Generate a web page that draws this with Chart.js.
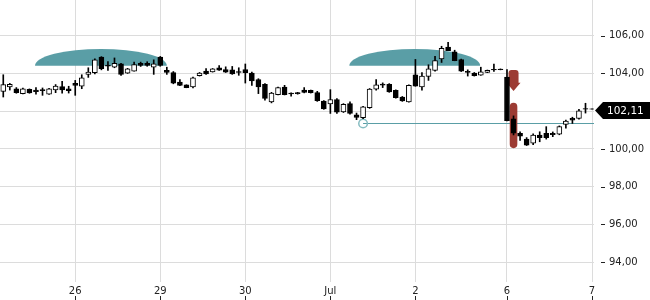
<!DOCTYPE html>
<html>
<head>
<meta charset="utf-8">
<script src="https://cdn.jsdelivr.net/npm/chart.js@4/dist/chart.umd.min.js"></script>
<style>
  html, body { margin: 0; padding: 0; background: #fff; }
  #wrap { width: 650px; height: 300px; }
</style>
</head>
<body>
<div id="wrap"><canvas id="chart" width="650" height="300"></canvas></div>
<script>
// Hourly candles, 25 Jun - 7 Jul (index = candle number)
const opens = [103.05,103.28,103.19,102.93,103.16,103.12,103.15,102.90,103.12,103.30,103.19,
  103.47,103.32,103.95,104.04,104.86,104.44,104.33,104.51,104.02,104.12,104.53,104.53,104.33,
  104.86,104.16,104.04,103.54,103.39,103.28,103.88,104.13,104.08,104.30,104.21,104.19,104.10,
  104.21,104.02,103.68,103.42,102.49,102.88,103.28,102.96,102.98,103.12,103.10,102.98,102.54,
  102.38,102.61,101.96,102.40,101.80,101.65,102.18,103.16,103.43,103.42,103.11,102.75,102.49,
  103.93,103.28,103.84,104.16,104.77,105.39,105.14,104.74,104.11,104.02,103.91,104.05,104.22,104.23,
  103.80,101.60,100.82,100.52,100.30,100.73,100.83,100.82,100.78,101.30,101.62,101.61,102.14,
  102.12];
const highs = [103.93,103.47,103.25,103.22,103.18,103.25,103.23,103.21,103.41,103.58,103.32,
  103.63,103.93,104.30,104.77,104.89,104.63,104.82,104.54,104.27,104.60,104.60,104.62,104.72,
  104.90,104.33,104.10,103.67,103.40,103.81,104.05,104.26,104.26,104.42,104.35,104.37,104.30,
  104.50,104.07,103.72,103.46,103.00,103.28,103.37,102.97,103.00,103.25,103.12,103.05,102.56,
  103.14,102.67,102.40,102.49,101.90,102.26,103.20,103.68,103.50,103.46,103.13,102.78,103.40,
  104.74,104.04,104.46,104.91,105.44,105.65,105.23,104.76,104.19,104.05,104.33,104.18,104.50,104.24,
  104.20,101.75,100.91,100.60,100.80,100.91,101.18,100.90,101.22,101.53,101.68,102.10,102.42,
  102.13];
const lows = [102.75,103.12,102.95,102.92,102.95,102.90,102.84,102.89,102.98,102.96,102.96,
  102.84,103.19,103.79,103.98,104.19,104.16,104.30,103.90,104.00,104.12,104.37,104.38,103.95,
  104.38,103.95,103.45,103.35,103.24,103.23,103.86,103.95,104.07,104.16,104.05,103.95,103.90,
  103.49,103.37,102.93,102.58,102.44,102.86,102.86,102.80,102.90,102.97,102.96,102.52,102.10,
  101.88,101.88,101.93,101.84,101.55,101.60,102.15,103.11,103.25,103.00,102.69,102.52,102.48,
  103.32,103.11,103.63,104.12,104.58,105.20,104.67,104.10,103.86,103.86,103.90,104.04,104.10,104.19,
  101.48,100.74,100.45,100.18,100.22,100.38,100.52,100.65,100.75,101.10,101.35,101.58,101.90,
  102.10];
const closes = [103.41,103.42,102.98,103.19,102.97,103.03,103.09,103.19,103.33,103.12,103.09,
  103.37,103.77,104.07,104.72,104.25,104.39,104.54,103.95,104.25,104.47,104.43,104.42,104.51,
  104.42,104.05,103.49,103.37,103.25,103.77,104.02,103.98,104.24,104.17,104.07,103.98,104.05,
  104.04,103.60,103.28,102.67,102.96,103.25,102.88,102.92,102.93,103.00,102.98,102.56,102.12,
  102.62,101.95,102.36,101.88,101.67,102.23,103.17,103.40,103.38,103.02,102.71,102.54,103.37,
  103.33,103.86,104.25,104.68,105.33,105.21,104.68,104.12,104.05,103.88,104.09,104.17,104.18,104.20,
  101.50,100.84,100.68,100.20,100.74,100.60,100.60,100.75,101.18,101.47,101.53,102.02,102.10,
  102.11];

// Axis ticks
const xTickPos = [11, 24, 37, 50, 63, 77, 90];
const xTickLabels = ['26', '29', '30', 'Jul', '2', '6', '7'];
const yTicks = [94, 96, 98, 100, 102, 104, 106];

// Pattern markers (x in candle index, y in price)
const domeStart = [4.85, 52.9];
const domeEnd = [25.0, 72.9];
const domeBase = [104.41, 104.41];
const domeTop = [105.30, 105.30];

const supportIndex = 55;
const supportLevel = 101.38;

const signalIndex = 78;
const arrowTop = 104.18;
const arrowHead = 103.50;
const arrowTip = 103.07;
const barTop = 102.44;
const barBottom = 100.04;

const lastPrice = 102.11;

const TEAL = '#5a9ea6';
const RED = '#9c3b33';

function fmt(v) {
    return v.toFixed(2).replace('.', ',');
}

function roundedRect(ctx, x, y, w, h, r) {
    ctx.beginPath();
    ctx.moveTo(x + r, y);
    ctx.lineTo(x + w - r, y);
    ctx.arcTo(x + w, y, x + w, y + r, r);
    ctx.lineTo(x + w, y + h - r);
    ctx.arcTo(x + w, y + h, x + w - r, y + h, r);
    ctx.lineTo(x + r, y + h);
    ctx.arcTo(x, y + h, x, y + h - r, r);
    ctx.lineTo(x, y + r);
    ctx.arcTo(x, y, x + r, y, r);
    ctx.closePath();
}

// Overlays drawn under the candles
const markers = {
    id: 'markers',
    beforeDatasetsDraw(chart) {
        const { ctx, chartArea: a, scales: { x, y } } = chart;
        ctx.save();
        ctx.beginPath();
        ctx.rect(a.left, a.top, a.width, a.height);
        ctx.clip();

        // domes
        ctx.fillStyle = TEAL;
        domeStart.forEach((s, k) => {
            const x0 = x.getPixelForValue(s);
            const x1 = x.getPixelForValue(domeEnd[k]);
            const yb = y.getPixelForValue(domeBase[k]);
            const yt = y.getPixelForValue(domeTop[k]);
            ctx.beginPath();
            ctx.ellipse((x0 + x1) / 2, yb, (x1 - x0) / 2, yb - yt, 0, Math.PI, 2 * Math.PI);
            ctx.closePath();
            ctx.fill();
        });

        // support line + circle
        const sx = x.getPixelForValue(supportIndex);
        const sy = Math.round(y.getPixelForValue(supportLevel)) + 0.5;
        ctx.strokeStyle = TEAL;
        ctx.lineWidth = 1;
        ctx.beginPath();
        ctx.moveTo(sx, sy);
        ctx.lineTo(a.right, sy);
        ctx.stroke();
        ctx.strokeStyle = '#86bcc1';
        ctx.lineWidth = 1.5;
        ctx.beginPath();
        ctx.arc(sx, sy, 4.3, 0, 2 * Math.PI);
        ctx.stroke();

        // red arrow
        const cx = x.getPixelForValue(signalIndex);
        const yA = y.getPixelForValue(arrowTop);
        const yH = y.getPixelForValue(arrowHead);
        const yT = y.getPixelForValue(arrowTip);
        ctx.fillStyle = RED;
        ctx.beginPath();
        ctx.moveTo(cx - 5, yH);
        ctx.lineTo(cx - 5, yA + 3);
        ctx.arcTo(cx - 5, yA, cx - 2, yA, 3);
        ctx.lineTo(cx + 2, yA);
        ctx.arcTo(cx + 5, yA, cx + 5, yA + 3, 3);
        ctx.lineTo(cx + 5, yH);
        ctx.lineTo(cx + 7, yH);
        ctx.lineTo(cx, yT);
        ctx.lineTo(cx - 7, yH);
        ctx.closePath();
        ctx.fill();

        // red capsule
        const b0 = y.getPixelForValue(barTop);
        const b1 = y.getPixelForValue(barBottom);
        roundedRect(ctx, cx - 3.8, b0, 7.6, b1 - b0, 3.8);
        ctx.fill();

        ctx.restore();
    },
    afterDraw(chart) {
        const { ctx, chartArea: a, scales: { x, y } } = chart;
        ctx.save();
        ctx.strokeStyle = '#222';
        ctx.lineWidth = 1;
        // y tick dashes
        yTicks.forEach(v => {
            const py = Math.round(y.getPixelForValue(v)) + 0.5;
            ctx.beginPath();
            ctx.moveTo(a.right + 7, py);
            ctx.lineTo(a.right + 11, py);
            ctx.stroke();
        });
        // x tick marks under labels
        xTickPos.forEach(v => {
            const px = Math.round(x.getPixelForValue(v)) + 0.5;
            ctx.beginPath();
            ctx.moveTo(px, 296);
            ctx.lineTo(px, 300);
            ctx.stroke();
        });
        // last price label
        const py = y.getPixelForValue(lastPrice) + 1.5;
        const left = a.right + 1;
        ctx.fillStyle = '#000';
        ctx.beginPath();
        ctx.moveTo(left, py);
        ctx.lineTo(left + 8, py - 8.5);
        ctx.lineTo(650, py - 8.5);
        ctx.lineTo(650, py + 8.5);
        ctx.lineTo(left + 8, py + 8.5);
        ctx.closePath();
        ctx.fill();
        ctx.fillStyle = '#fff';
        ctx.font = '10.5px "DejaVu Sans"';
        ctx.textBaseline = 'middle';
        ctx.textAlign = 'left';
        ctx.fillText(fmt(lastPrice), left + 12, py + 0.5);
        ctx.restore();
    }
};

Chart.defaults.font.family = '"DejaVu Sans", sans-serif';
Chart.defaults.font.size = 10;
Chart.defaults.color = '#222';

const ctx = document.getElementById('chart').getContext('2d');
new Chart(ctx, {
    type: 'bar',
    data: {
        datasets: [
            {
                label: 'body',
                data: opens.map((o, i) => ({ x: i, y: [o, closes[i]] })),
                backgroundColor: opens.map((o, i) => closes[i] >= o ? '#fff' : '#000'),
                borderColor: '#000',
                borderWidth: 1,
                borderSkipped: false,
                barThickness: 5,
                grouped: false,
                order: 0
            },
            {
                label: 'wick',
                data: lows.map((l, i) => ({ x: i, y: [l, highs[i]] })),
                backgroundColor: '#000',
                borderWidth: 0,
                barThickness: 1,
                grouped: false,
                order: 1
            }
        ]
    },
    options: {
        responsive: false,
        animation: false,
        devicePixelRatio: 1,
        layout: { padding: 0 },
        plugins: {
            legend: { display: false },
            tooltip: { enabled: false }
        },
        scales: {
            x: {
                type: 'linear',
                position: 'bottom',
                offset: false,
                min: -0.5,
                max: 90.3,
                afterBuildTicks: s => { s.ticks = xTickPos.map(v => ({ value: v })); },
                afterFit: s => { s.height = 18; s.paddingLeft = 0; s.paddingRight = 0; },
                grid: { color: '#dcdcdc', drawTicks: false, offset: false },
                border: { display: false },
                ticks: {
                    autoSkip: false,
                    maxRotation: 0,
                    padding: 3,
                    callback: (v, i) => xTickLabels[i]
                }
            },
            y: {
                type: 'linear',
                position: 'right',
                min: 92.95,
                max: 107.89,
                afterBuildTicks: s => { s.ticks = yTicks.map(v => ({ value: v })); },
                afterFit: s => { s.width = 56; s.paddingTop = 0; s.paddingBottom = 0; },
                grid: { color: '#dcdcdc', drawTicks: false },
                border: { display: false },
                ticks: {
                    padding: 15,
                    callback: v => fmt(v)
                }
            }
        }
    },
    plugins: [markers]
});
</script>
</body>
</html>
